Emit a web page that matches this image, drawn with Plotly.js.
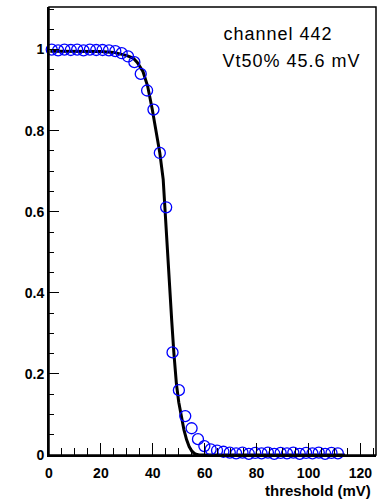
<!DOCTYPE html>
<html>
<head>
<meta charset="utf-8">
<script src="https://cdn.plot.ly/plotly-3.0.1.min.js"></script>
<style>
html,body{margin:0;padding:0;background:#fff;}
#chart{width:380px;height:502px;}
</style>
</head>
<body>
<div id="chart"></div>
<script>
// measured points (threshold mV, efficiency)
const thresholds = [1.05, 3.5, 5.95, 8.4, 10.85, 13.3, 15.75, 18.2, 20.65, 23.1, 25.55, 28.0, 30.45, 32.9, 35.35, 37.8, 40.25, 42.7, 45.15, 47.6, 50.05, 52.5, 54.95, 57.4, 59.85, 62.3, 64.75, 67.2, 69.65, 72.1, 74.55, 77.0, 79.45, 81.9, 84.35, 86.8, 89.25, 91.7, 94.15, 96.6, 99.05, 101.5, 103.95, 106.4, 108.85, 111.3];
const efficiency = [1.0, 0.998, 1.0, 0.999, 1.0, 0.998, 1.0, 0.999, 0.999, 0.998, 0.996, 0.991, 0.983, 0.969, 0.940, 0.899, 0.852, 0.745, 0.611, 0.253, 0.160, 0.096, 0.066, 0.039, 0.022, 0.014, 0.011, 0.008, 0.006, 0.004, 0.006, 0.003, 0.005, 0.004, 0.006, 0.003, 0.005, 0.004, 0.006, 0.003, 0.005, 0.004, 0.006, 0.003, 0.005, 0.004];
// fitted curve
const fitX = [0.5, 10, 20, 25, 28, 30, 32.4, 34, 36.2, 38, 39.8, 41, 42.7, 44, 45.6, 46.5, 47.3, 48.1, 49.1, 50, 51, 52, 53, 54, 55, 56, 57, 58, 60, 70, 114];
const fitY = [0.996, 0.996, 0.995, 0.993, 0.989, 0.985, 0.979, 0.968, 0.946, 0.91, 0.852, 0.81, 0.745, 0.68, 0.5, 0.41, 0.33, 0.253, 0.175, 0.13, 0.092, 0.062, 0.038, 0.021, 0.01, 0.004, 0.001, 0.0, 0.0, 0.0, 0.0];
const xTickVals = [0, 20, 40, 60, 80, 100, 120];
const yTickVals = [0, 0.2, 0.4, 0.6, 0.8, 1];
const yTickText = ["0", "0.2", "0.4", "0.6", "0.8", "1"];
const channelLabel = "channel 442";
const vtLabel = "Vt50% 45.6 mV";
const xTitle = "threshold (mV)";

const tickFont = {family: "Liberation Sans, Arial, sans-serif", size: 14, color: "#000", weight: "bold"};

const traces = [
  {x: fitX, y: fitY, type: "scatter", mode: "lines", line: {color: "#000", width: 3}, hoverinfo: "skip"},
  {x: thresholds, y: efficiency, type: "scatter", mode: "markers", cliponaxis: false,
   marker: {symbol: "circle-open", size: 11, color: "#0000ff", line: {color: "#0000ff", width: 1.3}}}
];

const layout = {
  width: 380, height: 502,
  margin: {l: 49, r: 4, t: 7, b: 47},
  paper_bgcolor: "#fff", plot_bgcolor: "#fff",
  showlegend: false,
  xaxis: {
    range: [0, 126], tickvals: xTickVals, ticktext: xTickVals.map(String),
    ticks: "inside", ticklen: 12, tickwidth: 1, tickcolor: "#000",
    minor: {dtick: 5, tick0: 0, ticks: "inside", ticklen: 7, tickwidth: 1, tickcolor: "#000", showgrid: false},
    showline: true, linecolor: "#000", linewidth: 2, showgrid: false, zeroline: false,
    tickfont: tickFont, ticklabelstandoff: 4
  },
  yaxis: {
    range: [0, 1.105], tickvals: yTickVals, ticktext: yTickText,
    ticks: "inside", ticklen: 10, tickwidth: 1, tickcolor: "#000",
    minor: {dtick: 0.05, tick0: 0, ticks: "inside", ticklen: 5, tickwidth: 1, tickcolor: "#000", showgrid: false},
    showline: true, linecolor: "#000", linewidth: 2, showgrid: false, zeroline: false,
    tickfont: tickFont, ticklabelstandoff: 0
  },
  shapes: [
    {type: "rect", xref: "paper", yref: "paper", x0: 0, x1: 1, y0: 0, y1: 1, line: {color: "#000", width: 1.5}}
  ],
  annotations: [
    {text: channelLabel, xref: "paper", yref: "paper", x: 0.545, y: 0.94, xanchor: "left", yanchor: "middle", showarrow: false,
     font: {family: "Liberation Sans, Arial, sans-serif", size: 18, color: "#000"}},
    {text: vtLabel, xref: "paper", yref: "paper", x: 0.543, y: 0.879, xanchor: "left", yanchor: "middle", showarrow: false,
     font: {family: "Liberation Sans, Arial, sans-serif", size: 18, color: "#000"}},
    {text: xTitle, xref: "paper", yref: "paper", x: 1, y: 0, xanchor: "right", yanchor: "middle", xshift: -3, yshift: -35, showarrow: false,
     font: {family: "Liberation Sans, Arial, sans-serif", size: 15, color: "#000", weight: "bold"}}
  ]
};

Plotly.newPlot("chart", traces, layout, {staticPlot: true, displayModeBar: false}).then(() => {
  document.querySelectorAll(".annotation-text").forEach((el, i) => {
    if (i < 2) el.style.letterSpacing = "1px";
  });
});
</script>
</body>
</html>
